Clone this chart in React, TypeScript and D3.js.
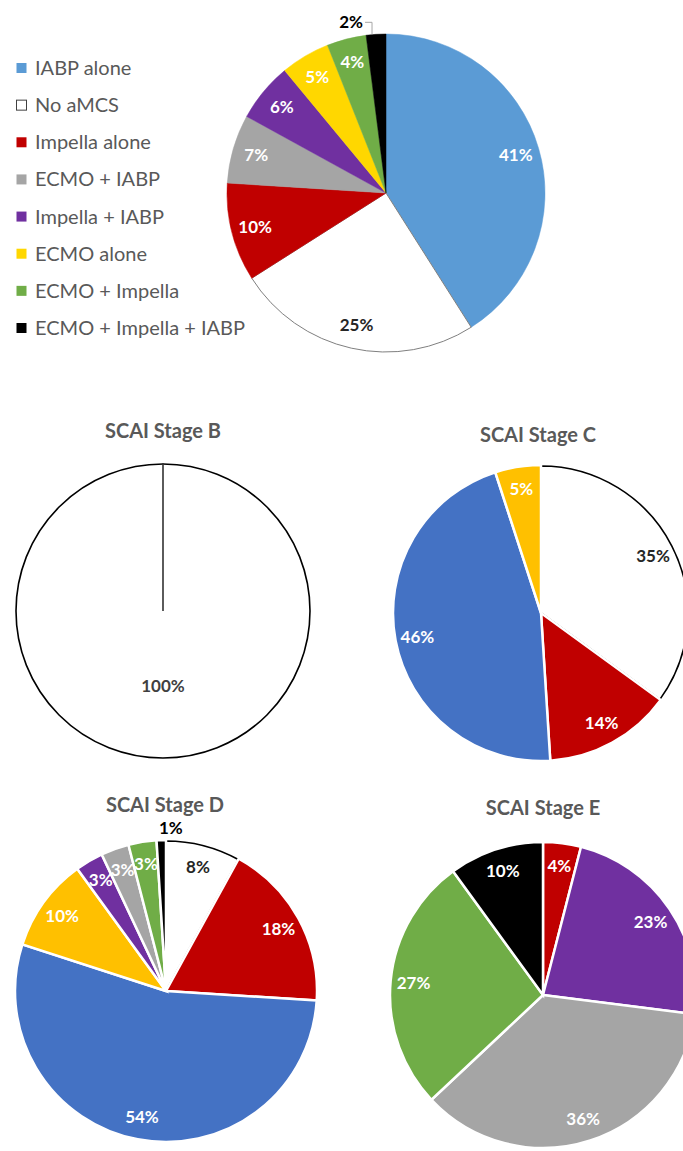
import React from "react";
import * as d3 from "d3";

// Support categories and their colours
const categories = [
  "IABP alone",
  "No aMCS",
  "Impella alone",
  "ECMO + IABP",
  "Impella + IABP",
  "ECMO alone",
  "ECMO + Impella",
  "ECMO + Impella + IABP",
];
const overallColors = ["#5B9BD5", "#FFFFFF", "#C00000", "#A5A5A5", "#7030A0", "#FFD700", "#70AD47", "#000000"];
const stageColorMap: Record<string, string> = {
  "IABP alone": "#4472C4",
  "No aMCS": "#FFFFFF",
  "Impella alone": "#C00000",
  "ECMO + IABP": "#A5A5A5",
  "Impella + IABP": "#7030A0",
  "ECMO alone": "#FFC000",
  "ECMO + Impella": "#70AD47",
  "ECMO + Impella + IABP": "#000000",
};

// Overall distribution (%), same order as categories
const overallValues = [41, 25, 10, 7, 6, 5, 4, 2];

// Per-stage distributions (%), listed clockwise from 12 o'clock
const stageBCategories = ["No aMCS"];
const stageBValues = [100];
const stageCCategories = ["No aMCS", "Impella alone", "IABP alone", "ECMO alone"];
const stageCValues = [35, 14, 46, 5];
const stageDCategories = [
  "No aMCS",
  "Impella alone",
  "IABP alone",
  "ECMO alone",
  "Impella + IABP",
  "ECMO + IABP",
  "ECMO + Impella",
  "ECMO + Impella + IABP",
];
const stageDValues = [8, 18, 54, 10, 3, 3, 3, 1];
const stageECategories = ["Impella alone", "Impella + IABP", "ECMO + IABP", "ECMO + Impella", "ECMO + Impella + IABP"];
const stageEValues = [4, 23, 36, 27, 10];

const FONT = "Lato, 'Open Sans', sans-serif";
const TITLE_COLOR = "#595959";

type Slice = { cat: string; value: number; color: string };

function polar(angle: number, r: number): [number, number] {
  return [Math.sin(angle) * r, -Math.cos(angle) * r];
}

function labelFill(cat: string) {
  return cat === "No aMCS" ? "#262626" : "#FFFFFF";
}

function PieChart(props: {
  cx: number;
  cy: number;
  r: number;
  slices: Slice[];
  title?: string;
  titleY?: number;
  titleX?: number;
  separators: boolean;
  smallThreshold: number;
  leader?: boolean;
}) {
  const { cx, cy, r, slices, title, titleY, titleX, separators, smallThreshold, leader } = props;
  const pie = d3
    .pie<Slice>()
    .sort(null)
    .value((d) => d.value)
    .startAngle(0)
    .endAngle(2 * Math.PI);
  const arcs = pie(slices);
  const arc = d3.arc<d3.PieArcDatum<Slice>>().innerRadius(0).outerRadius(r);
  const insetArc = d3.arc<d3.PieArcDatum<Slice>>().innerRadius(0).outerRadius(r - 1);
  const labelR = r * 0.85;

  return (
    <g>
      {title && (
        <text
          x={titleX ?? cx}
          y={titleY}
          textAnchor="middle"
          fontFamily={FONT}
          fontWeight="bold"
          fontSize={20}
          fill={TITLE_COLOR}
        >
          {title}
        </text>
      )}
      <g transform={`translate(${cx},${cy})`}>
        {arcs.map((a, i) => {
          const isBlank = a.data.cat === "No aMCS";
          if (isBlank) {
            return (
              <path
                key={i}
                d={(separators ? insetArc(a) : arc(a)) || ""}
                fill="#FFFFFF"
                stroke={separators ? "#000000" : "#7F7F7F"}
                strokeWidth={separators ? 1.6 : 1}
                strokeLinejoin="miter"
              />
            );
          }
          return (
            <path
              key={i}
              d={arc(a) || ""}
              fill={a.data.color}
              stroke={separators ? "#FFFFFF" : a.data.color}
              strokeWidth={separators ? 2.5 : 0.5}
            />
          );
        })}
        {arcs.length === 1 && (
          <line
            x1={0}
            y1={0}
            x2={polar(arcs[0].startAngle, r)[0]}
            y2={polar(arcs[0].startAngle, r)[1]}
            stroke="#333333"
            strokeWidth={1.6}
          />
        )}
        {arcs.map((a, i) => {
          const mid = (a.startAngle + a.endAngle) / 2;
          const pct = `${a.data.value}%`;
          if (arcs.length === 1) {
            const [x, y] = polar(Math.PI, r * 0.51);
            return (
              <text key={i} x={x} y={y} dy="0.35em" textAnchor="middle" fontFamily={FONT} fontWeight="bold" fontSize={17} fill="#404040">
                {pct}
              </text>
            );
          }
          if (a.data.value <= smallThreshold) {
            const [ox, oy] = polar(mid, r);
            if (leader) {
              const ly = oy - 12;
              return (
                <g key={i}>
                  <polyline
                    points={`${ox - 4},${oy} ${ox - 4},${ly} ${ox - 11},${ly}`}
                    fill="none"
                    stroke="#A6A6A6"
                    strokeWidth={1}
                  />
                  <text x={ox - 13} y={ly} dy="0.35em" textAnchor="end" fontFamily={FONT} fontWeight="bold" fontSize={17} fill="#000000">
                    {pct}
                  </text>
                </g>
              );
            }
            const [tx, ty] = polar(mid, r + 12);
            return (
              <text key={i} x={tx + 10} y={ty} dy="0.35em" textAnchor="middle" fontFamily={FONT} fontWeight="bold" fontSize={17} fill="#000000">
                {pct}
              </text>
            );
          }
          const [x, y] = polar(mid, labelR);
          return (
            <text key={i} x={x} y={y} dy="0.35em" textAnchor="middle" fontFamily={FONT} fontWeight="bold" fontSize={17} fill={labelFill(a.data.cat)}>
              {pct}
            </text>
          );
        })}
      </g>
    </g>
  );
}

function stageSlices(cats: string[], vals: number[]): Slice[] {
  return cats.map((c, i) => ({ cat: c, value: vals[i], color: stageColorMap[c] }));
}

export default function App() {
  const overall: Slice[] = categories.map((c, i) => ({ cat: c, value: overallValues[i], color: overallColors[i] }));
  const legendY = d3.scalePoint<string>().domain(categories).range([68, 328]);

  return (
    <svg width={683} height={1151} style={{ position: "absolute", left: 0, top: 0, background: "#FFFFFF" }}>
      <rect x={0} y={0} width={683} height={1151} fill="#FFFFFF" />
      {/* Legend */}
      <g>
        {categories.map((c, i) => (
          <g key={c} transform={`translate(16,${legendY(c)})`}>
            <rect
              x={0.5}
              y={-5}
              width={10}
              height={10}
              fill={overallColors[i]}
              stroke={c === "No aMCS" ? "#404040" : "none"}
              strokeWidth={1}
            />
            <text x={19} y={0} dy="0.35em" fontFamily={FONT} fontSize={20} fill={TITLE_COLOR}>
              {c}
            </text>
          </g>
        ))}
      </g>
      <PieChart cx={386} cy={193} r={159} slices={overall} separators={false} smallThreshold={2} leader />
      <PieChart
        cx={163}
        cy={611}
        r={148}
        slices={stageSlices(stageBCategories, stageBValues)}
        title="SCAI Stage B"
        titleY={438}
        separators
        smallThreshold={0}
      />
      <PieChart
        cx={541}
        cy={613}
        r={148}
        slices={stageSlices(stageCCategories, stageCValues)}
        title="SCAI Stage C"
        titleX={538}
        titleY={442}
        separators
        smallThreshold={0}
      />
      <PieChart
        cx={166}
        cy={991}
        r={151}
        slices={stageSlices(stageDCategories, stageDValues)}
        title="SCAI Stage D"
        titleX={165}
        titleY={812}
        separators
        smallThreshold={1}
      />
      <PieChart
        cx={543}
        cy={995}
        r={153}
        slices={stageSlices(stageECategories, stageEValues)}
        title="SCAI Stage E"
        titleY={815}
        separators
        smallThreshold={0}
      />
    </svg>
  );
}
